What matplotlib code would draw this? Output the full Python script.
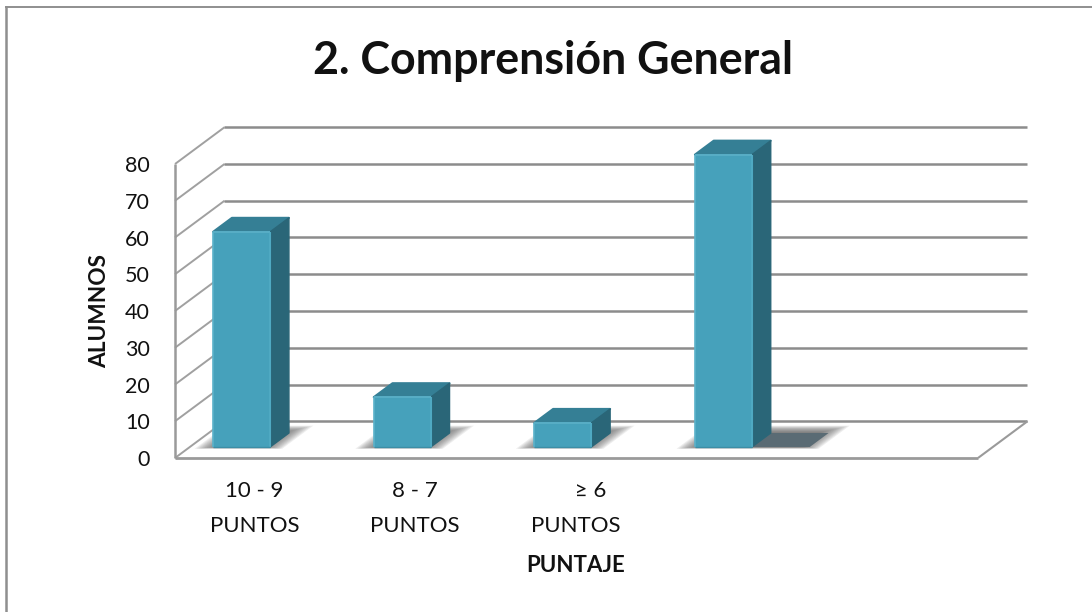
import matplotlib
matplotlib.use("Agg")
import matplotlib.pyplot as plt
from matplotlib.patches import Polygon

plt.rcParams['font.family'] = ['Lato', 'DejaVu Sans']

# datos
categorias = ["10 - 9\nPUNTOS", "8 - 7\nPUNTOS", "     ≥ 6\nPUNTOS", ""]
alumnos = [59, 14, 7, 80]
ticks_y = [0, 10, 20, 30, 40, 50, 60, 70, 80]

# escala: 1 categoria = 160.6 px, 1 alumno = 3.675 px
PX_X = 160.6
PX_Y = 3.675
X0 = 175
Y0 = 458
N_CAT = 5
# la profundidad 1 equivale a moverse esto en unidades de datos
DX = 49.5 / PX_X
DY = 10.0

GRID = "#8c8c8c"
FRENTE = "#46a1bb"
LADO = "#2a6678"
TECHO = "#357f95"

fig = plt.figure(figsize=(10.92, 6.12), dpi=100)
ax = fig.add_axes([0, 0, 1, 1])
ax.set_xlim(-X0 / PX_X, (1092 - X0) / PX_X)
ax.set_ylim((Y0 - 612) / PX_Y, Y0 / PX_Y)
ax.axis("off")


def p(x, y, d=0.0):
    # proyeccion oblicua
    return (x + d * DX, y + d * DY)


def poly(pts, **kw):
    kw.setdefault("linewidth", 0)
    kw.setdefault("edgecolor", "none")
    ax.add_patch(Polygon(pts, closed=True, **kw))


def linea(a, b, color=GRID, lw=1.7, z=1):
    ax.plot([a[0], b[0]], [a[1], b[1]], color=color, lw=lw, zorder=z, solid_capstyle="butt")


# marco de la imagen (solo arriba e izquierda)
ax.plot([-(X0 - 6) / PX_X, -(X0 - 6) / PX_X], [(Y0 - 612) / PX_Y, (Y0 - 7) / PX_Y], color="#8f8f8f", lw=1.8)
ax.plot([-(X0 - 6) / PX_X, (1092 - X0) / PX_X], [(Y0 - 7) / PX_Y, (Y0 - 7) / PX_Y], color="#8f8f8f", lw=1.4)

# rejilla y paredes
for t in ticks_y:
    linea(p(0, t), p(0, t, 1), color="#a0a0a0", lw=1.4)
    linea(p(0, t, 1), p(N_CAT, t, 1), lw=1.8)
linea(p(0, 0), p(0, 80), color="#9a9a9a", lw=1.8)
linea(p(0, 0), p(N_CAT, 0), color="#9a9a9a", lw=2.0)
linea(p(N_CAT, 0), p(N_CAT, 0, 1), color="#9a9a9a", lw=1.5)

# barras
ANCHO = 57 / PX_X
D1 = 0.30
D2 = 0.68
INICIO = 0.145
BISEL = 0.45  # el borde redondeado baja un poco la cara superior

for i, v in enumerate(alumnos):
    x1 = i + INICIO
    x2 = x1 + ANCHO
    h = v - BISEL
    # sombra difusa en el suelo
    extra = 0.43 if i == 3 else 0.09
    for k in range(12):
        g = k * 0.011
        sl = x1 - 0.10 + g
        sr = x2 + extra - g
        d_a = D1 - 0.05 + g * 0.4
        d_b = D1 + 0.58 - g * 1.5
        poly([p(sl, 0, d_a), p(sr, 0, d_a), p(sr, 0, d_b), p(sl, 0, d_b)],
             facecolor="#555555", alpha=0.10, zorder=3)
    if i == 3:
        poly([p(x2, 0, D1), p(x2 + 0.36, 0, D1), p(x2 + 0.36, 0, D2), p(x2, 0, D2)],
             facecolor="#5a6b74", zorder=4)
    # caras
    poly([p(x1, h, D1), p(x2, h, D1), p(x2, h, D2), p(x1, h, D2)], facecolor=TECHO,
         edgecolor=TECHO, linewidth=1.5, joinstyle="round", zorder=6)
    poly([p(x2, 0, D1), p(x2, 0, D2), p(x2, h, D2), p(x2, h, D1)], facecolor=LADO,
         edgecolor=LADO, linewidth=1.0, joinstyle="round", zorder=6)
    poly([p(x1, 0, D1), p(x2, 0, D1), p(x2, h, D1), p(x1, h, D1)], facecolor=FRENTE, zorder=7)
    # biseles
    linea(p(x1, 0, D1), p(x1, h, D1), color="#5bb2ca", lw=1.2, z=8)
    linea(p(x2, 0, D1), p(x2, h, D1), color="#4fa9c2", lw=1.5, z=8)
    linea(p(x1, h, D1), p(x2, h, D1), color="#58aec6", lw=1.4, z=8)
    linea(p(x1, 0, D1), p(x2, 0, D1), color="#3c8ea6", lw=1.0, z=8)

# textos de ejes
for t in ticks_y:
    ax.text(-25 / PX_X, t - 0.6, str(t), ha="right", va="center", fontsize=15.5, color="#111111")
for i, c in enumerate(categorias):
    if c:
        ax.text(i + 0.495, -6.3, c, ha="center", va="top", fontsize=16,
                color="#111111", linespacing=1.9)
ax.text(2.497, -29.2, "PUNTAJE", ha="center", va="center", fontsize=16, fontweight="bold", color="#111111")
ax.text(-75.5 / PX_X, 40, "ALUMNOS", ha="center", va="center", rotation=90, fontsize=16.3,
        fontweight="bold", color="#111111")
ax.text((553.5 - X0) / PX_X, (Y0 - 61.5) / PX_Y, "2. Comprensión General", ha="center", va="center",
        fontsize=32.2, fontweight="bold", color="#111111")

fig.savefig("out.png", dpi=100)
